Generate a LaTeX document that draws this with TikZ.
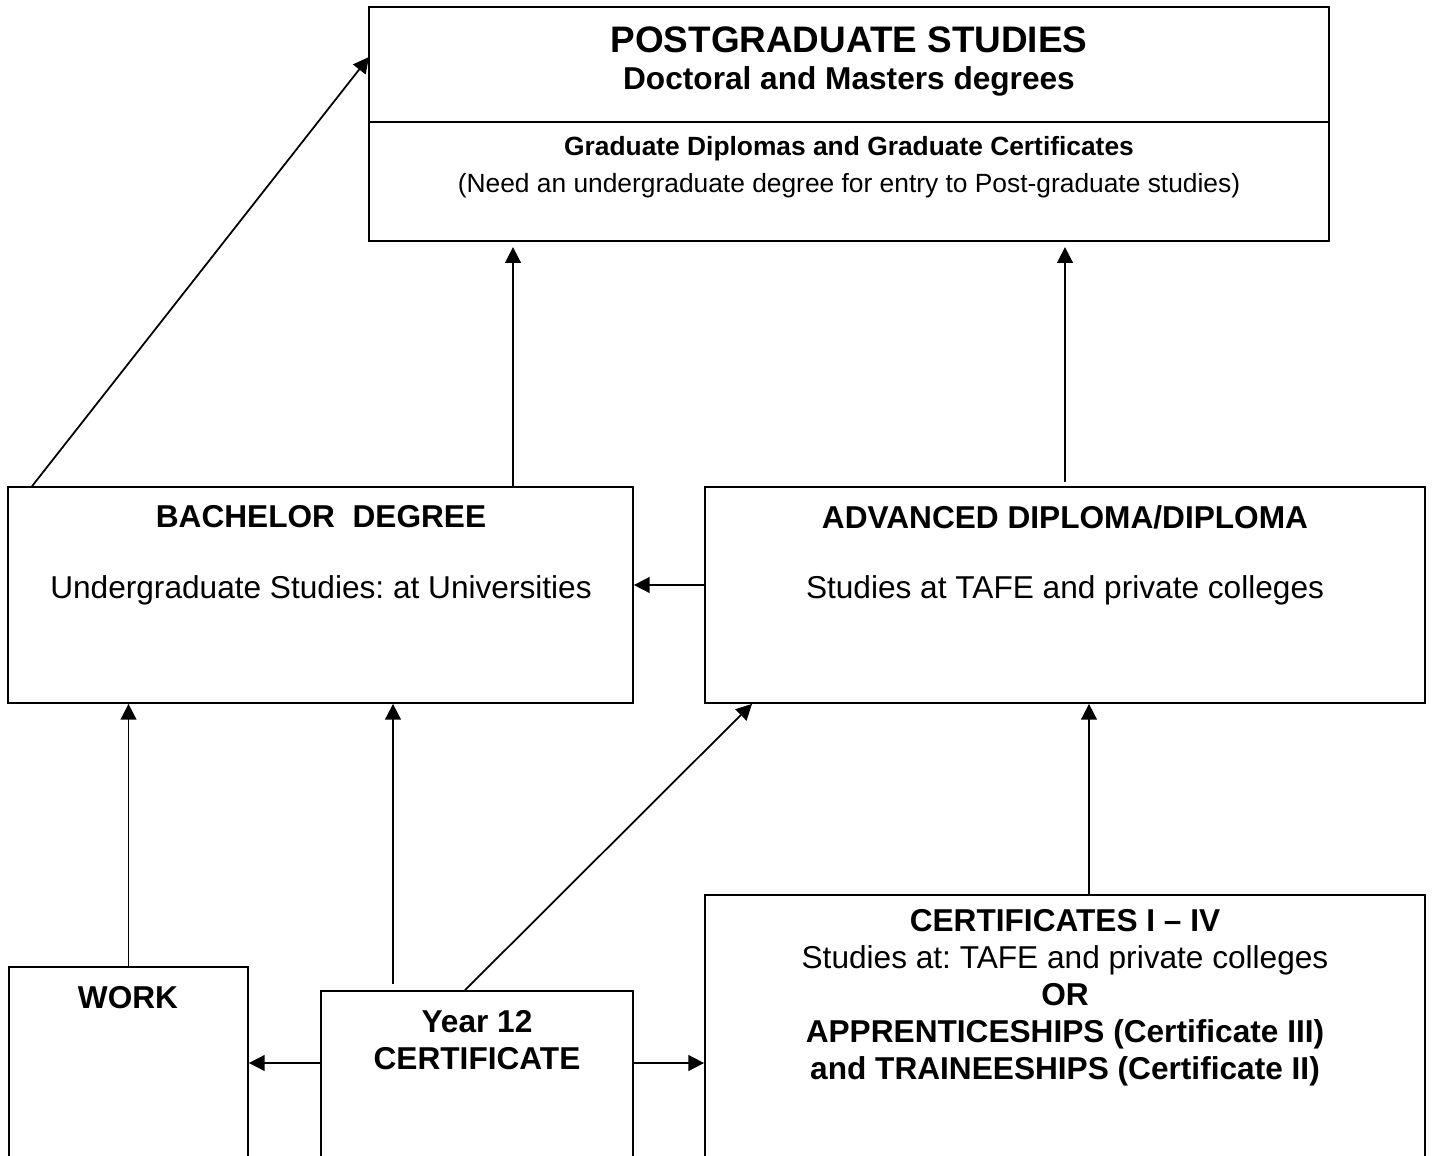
\documentclass[tikz,border=0pt]{standalone}
\usepackage{fontspec}
\setmainfont{Liberation Sans}
\frenchspacing
\usepackage{tikz}
\usetikzlibrary{arrows.meta,%
                fit,positioning}

\begin{document}
\begin{tikzpicture}[x=0.02cm,y=-0.02cm,
  box/.style={draw,line width=1pt,inner sep=0pt},
  arr/.style={line width=1pt,-{Triangle[length=9pt,width=9pt]}},
  big/.style={font=\fontsize{21}{24}\selectfont\bfseries},
  txt/.style={align=center,font=\fontsize{18}{21}\selectfont},
  small/.style={align=center,font=\fontsize{15}{21}\selectfont}]
\useasboundingbox (0,0) rectangle (1434,1156);
\clip (0,0) rectangle (1434,1156);
% boxes
\node[box,fit={(369,7) (1329,241)}] (pg) {};
\draw[line width=1pt] (pg.west |- 0,122) -- (pg.east |- 0,122);
\node[box,fit={(8,487) (633,703)}] (bach) {};
\node[box,fit={(705,487) (1425,703)}] (adv) {};
\node[box,fit={(9,967) (248,1200)}] (work) {};
\node[box,fit={(321,991) (633,1200)}] (yr) {};
\node[box,fit={(705,895) (1425,1200)}] (cert) {};

% texts
\node[big] (pgtitle) at (849,40) {POSTGRADUATE STUDIES};
\node[txt,font=\fontsize{18}{21}\selectfont\bfseries] (pgsub) at (849,81) {Doctoral and Masters degrees};
\node[small] (pggrad) at (849,167) {\textbf{Graduate Diplomas and Graduate Certificates}\\(Need an undergraduate degree for entry to Post-graduate studies)};
\node[txt] (bachtitle) at (321,517) {\textbf{BACHELOR\ \ DEGREE}};
\node[txt] (bachtext) at (321,590) {Undergraduate Studies: at Universities};
\node[txt] (advtitle) at (1065,517) {\textbf{ADVANCED DIPLOMA/DIPLOMA}};
\node[txt] (advtext) at (1065,590) {Studies at TAFE and private colleges};
\node[txt] (worktext) at (128,998) {\textbf{WORK}};
\node[txt] (yrtext) at (477,1040) {\textbf{Year 12}\\\textbf{CERTIFICATE}};
\node[txt] (certtext) at (1065,998) {\textbf{CERTIFICATES I – IV}\\Studies at: TAFE and private colleges\\\textbf{OR}\\\textbf{APPRENTICESHIPS (Certificate III)}\\\textbf{and TRAINEESHIPS (Certificate II)}};

% connectors
\coordinate (pgin) at (369,57);
\draw[arr] (bach.north west) ++(25,0) -- (pgin);
\draw[arr,shorten >=3pt] (bach.north -| 513,0) -- (pg.south -| 513,0);
\draw[arr,shorten >=3pt] (adv.north -| 1065,0) ++(0,-4) -- (pg.south -| 1065,0);
\draw[arr] (adv.west |- 0,585) -- (bach.east |- 0,585);
\draw[arr] (work.north) -- (bach.south -| work.north);
\draw[arr] (yr.north -| 393,0) ++(0,-6) -- (bach.south -| 393,0);
\draw[arr] (yr.north -| 465,0) -- (adv.south -| 752,0);
\draw[arr] (yr.west |- 0,1063) -- (work.east |- 0,1063);
\draw[arr] (yr.east |- 0,1063) -- (cert.west |- 0,1063);
\draw[arr] (cert.north -| 1089,0) -- (adv.south -| 1089,0);
\end{tikzpicture}
\end{document}
